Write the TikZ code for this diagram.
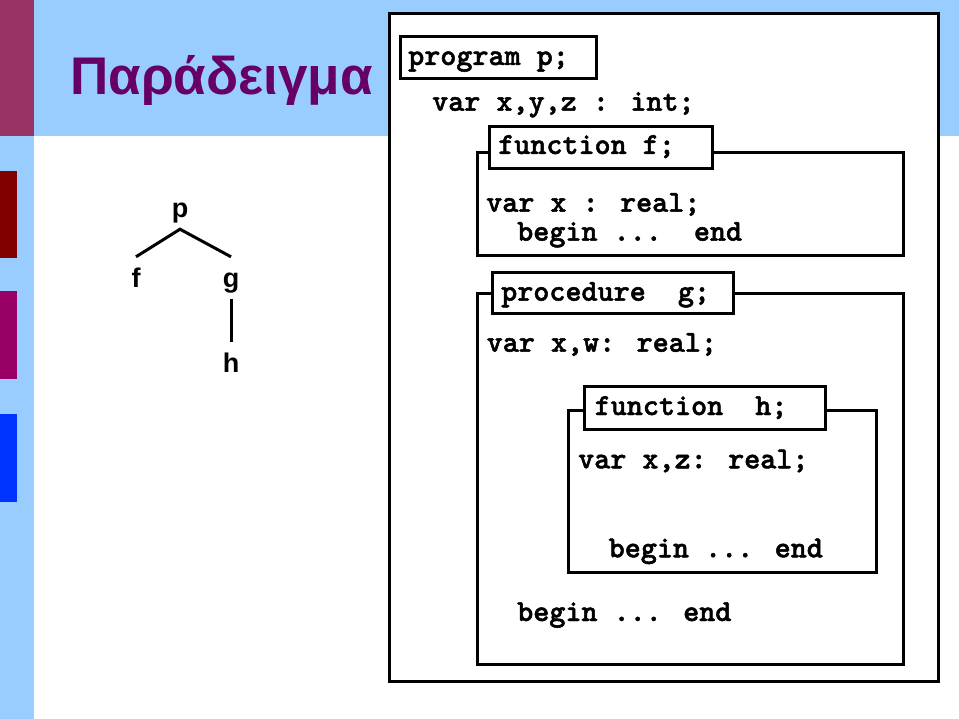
\documentclass[tikz,border=0pt]{standalone}
\usepackage{fontspec}
\setmainfont{Liberation Sans}
\newfontfamily\codefam{lmmonolt10-bold.otf}[FakeBold=1.6]
\definecolor{bandblue}{HTML}{99CCFF}
\definecolor{rosecol}{HTML}{993366}
\definecolor{darkredcol}{HTML}{800000}
\definecolor{purplecol}{HTML}{990066}
\definecolor{bluecol}{HTML}{0033FF}
\definecolor{titlecol}{HTML}{660066}
\tikzset{
  frame/.style={draw=black, line width=3pt, fill=white},
  code/.style={anchor=base west, inner sep=0pt, font=\codefam\fontsize{30.6}{36}\selectfont},
  treelbl/.style={anchor=base, inner sep=11pt, text height=20pt, text depth=0pt, font=\bfseries\fontsize{27}{30}\selectfont},
  treeline/.style={line width=3pt},
}
\begin{document}
\begin{tikzpicture}[x=1pt,y=-1pt]
\useasboundingbox (0,0) rectangle (959,719);
% background decorations
\fill[bandblue] (0,0) rectangle (959,136);
\fill[bandblue] (0,0) rectangle (34,719);
\fill[rosecol] (0,0) rectangle (34,136);
\fill[darkredcol] (0,171) rectangle (17,258);
\fill[purplecol] (0,291) rectangle (17,379);
\fill[bluecol] (0,414) rectangle (17,502);
% title
\node[anchor=base west, inner sep=0pt, text=titlecol, font=\bfseries\fontsize{53}{60}\selectfont] (title) at (70,95) {Παράδειγμα};
% tree
\node[treelbl] (p) at (180,218) {p};
\node[treelbl] (f) at (136,288) {f};
\node[treelbl] (g) at (231,288) {g};
\node[treelbl] (h) at (231,373) {h};
\draw[treeline] (f.north) -- (p.south) -- (g.north);
\draw[treeline] (g.south) -- (h.north);
% outer program box
\draw[frame] (389,13.5) rectangle (938,681.5);
\draw[frame] (400,36.5) rectangle (596,78.5);
\node[code] (tprog) at (408,65) {program p;};
\node[code] (tvarp) at (432,110.7) {var x,y,z : int;};
% function f
\draw[frame] (477,153) rectangle (903.5,255.5);
\draw[frame] (489,126.5) rectangle (712,168.5);
\node[code] (tfunf) at (498,154) {function f;};
\node[code] (tvarf) at (486,211.7) {var x : real;};
\node[code] (tbegf) at (517,240.7) {begin ...\ \ end};
% procedure g
\draw[frame] (477,293.5) rectangle (903.5,664);
\draw[frame] (492.5,272.5) rectangle (733,314);
\node[code] (tprocg) at (501,300.7) {procedure\ \ g;};
\node[code] (tvarg) at (486.5,351.7) {var x,w: real;};
% function h
\draw[frame] (568,410) rectangle (876.5,572);
\draw[frame] (584,387) rectangle (825.5,429);
\node[code] (tfunh) at (594.5,415) {function\ \ h;};
\node[code] (tvarh) at (578,468.3) {var x,z: real;};
\node[code] (tbegh) at (608.5,557.3) {begin ... end};
\node[code] (tbegg) at (517,621) {begin ... end};
\end{tikzpicture}
\end{document}
